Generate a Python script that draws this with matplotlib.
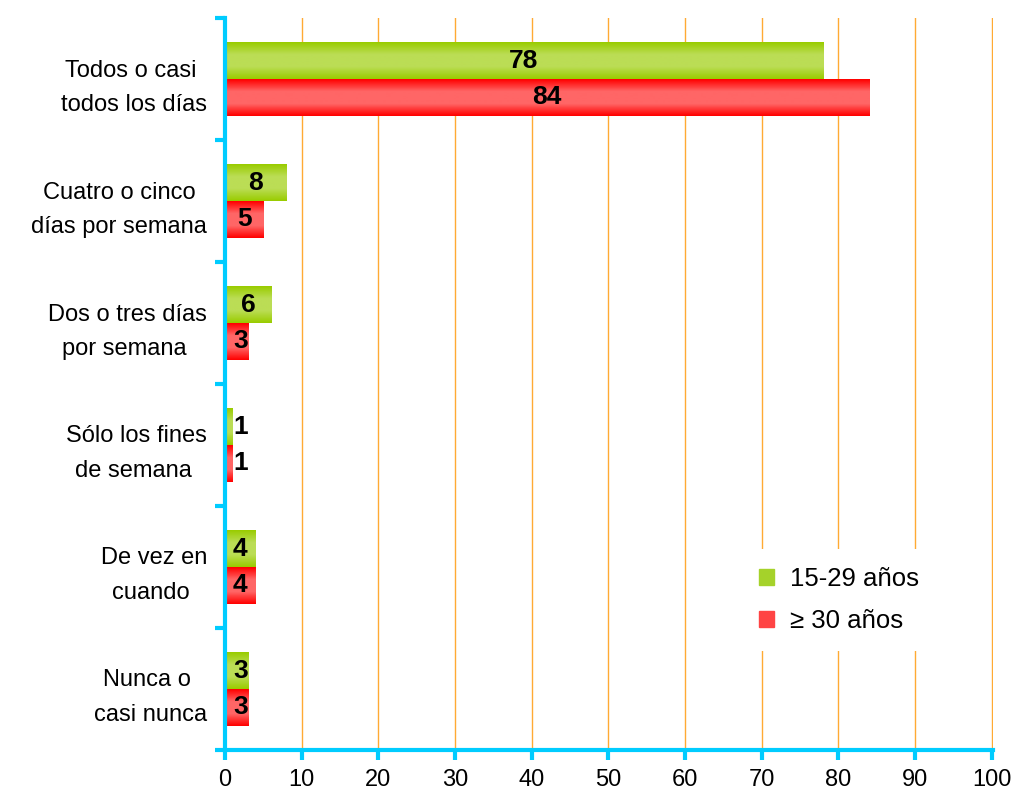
import matplotlib
matplotlib.use("Agg")
import matplotlib.pyplot as plt
import numpy as np
from matplotlib.colors import LinearSegmentedColormap
from matplotlib.patches import Rectangle

categories = ["Todos o casi \ntodos los días", "Cuatro o cinco\ndías por semana",
              "Dos o tres días\npor semana ", "Sólo los fines\nde semana ",
              "De vez en\ncuando ", "Nunca o \ncasi nunca"]
young = [78, 8, 6, 1, 4, 3]
older = [84, 5, 3, 1, 4, 3]
series_names = ["15-29 años", "≥ 30 años"]
xticks = [0, 10, 20, 30, 40, 50, 60, 70, 80, 90, 100]

plt.rcParams['font.family'] = ['Liberation Sans', 'DejaVu Sans']

fig = plt.figure(figsize=(10.17, 8.01), dpi=100)
ax = fig.add_axes([0.2212, 0.0637, 0.7552, 0.9138])

n = len(categories)
y = np.arange(n)[::-1]
h = 0.3

green_cm = LinearSegmentedColormap.from_list("g", ["#99cc00", "#bbdd55", "#bbdd55", "#99cc00"])
red_cm = LinearSegmentedColormap.from_list("r", ["#ff0000", "#ff6666", "#ff6666", "#ff0000"])

bars_g = ax.barh(y + h / 2, young, height=h, color="#99cc00", zorder=3)
bars_r = ax.barh(y - h / 2, older, height=h, color="#ff3333", zorder=3)

grad = np.linspace(0, 1, 64).reshape(-1, 1)
for bars, cmap in [(bars_g, green_cm), (bars_r, red_cm)]:
    for b in bars:
        x0, y0, w, hh = b.get_x(), b.get_y(), b.get_width(), b.get_height()
        im = ax.imshow(grad, cmap=cmap, aspect="auto", extent=[x0, x0 + w, y0, y0 + hh],
                       origin="lower", zorder=4, interpolation="bilinear")
        im.set_clip_path(b)

for bars, vals in [(bars_g, young), (bars_r, older)]:
    for b, v in zip(bars, vals):
        ax.text(max(v / 2, 2), b.get_y() + b.get_height() / 2, str(v), ha="center",
                va="center", fontsize=19, fontweight="bold", zorder=6)

ax.set_xlim(0, 100.15)
ax.set_ylim(-0.5, n - 0.5)
ax.set_xticks(xticks)
ax.set_xticklabels([str(t) for t in xticks], fontsize=17)
ax.set_yticks(y)
ax.set_yticklabels(categories, fontsize=17, multialignment="center", linespacing=1.75)
ax.set_yticks(np.arange(-0.5, n, 1), minor=True)
ax.tick_params(axis="y", which="major", length=0, pad=13)
ax.tick_params(axis="y", which="minor", length=7, width=3, color="#00ccff", direction="out")
ax.tick_params(axis="x", length=7, width=3, color="#00ccff", pad=7)

for s in ["top", "right"]:
    ax.spines[s].set_visible(False)
for s in ["left", "bottom"]:
    ax.spines[s].set_color("#00ccff")
    ax.spines[s].set_linewidth(3)
    ax.spines[s].set_zorder(7)

ax.xaxis.grid(True, color="#ffaa33", linewidth=1)
ax.set_axisbelow(True)

handles = [Rectangle((0, 0), 1, 1, color="#a5d22a"), Rectangle((0, 0), 1, 1, color="#ff4444")]
leg = ax.legend(handles, series_names, loc="lower left", bbox_to_anchor=(0.655, 0.118),
                frameon=True, fontsize=18.5, handlelength=0.6, handleheight=0.6,
                labelspacing=0.7, handletextpad=0.6, borderpad=0.7)
leg.get_frame().set_edgecolor("none")
leg.get_frame().set_facecolor("white")
leg.get_frame().set_alpha(1)
leg.set_zorder(8)

fig.savefig("out.png", dpi=100)
